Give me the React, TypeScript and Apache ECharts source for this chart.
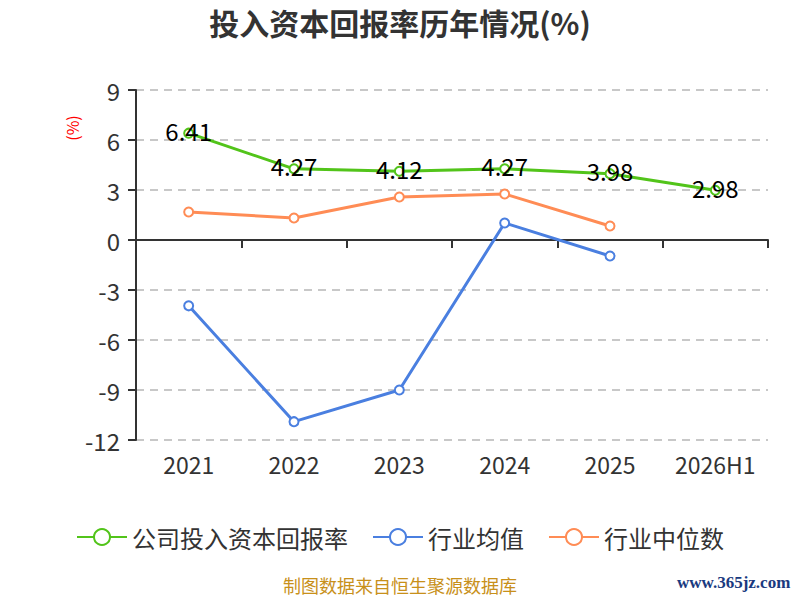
import React, { useEffect, useRef } from 'react';
import * as echarts from 'echarts';

const years = ['2021', '2022', '2023', '2024', '2025', '2026H1'];
const companyRoic = [6.41, 4.27, 4.12, 4.27, 3.98, 2.98];
const industryAvg = [-3.95, -10.9, -9.0, 1.02, -0.96, null];
const industryMedian = [1.68, 1.32, 2.58, 2.76, 0.84, null];
const seriesNames = ['公司投入资本回报率', '行业均值', '行业中位数'];

const App = () => {
  const chartRef = useRef(null);

  useEffect(() => {
    document.body.style.margin = '0';
    const chart = echarts.init(chartRef.current, null, { renderer: 'svg' });
    const font = '"Noto Sans CJK SC", "Noto Sans", sans-serif';
    const lineSeries = (name, data, color, withLabel) => ({
      name,
      type: 'line',
      data,
      symbol: 'emptyCircle',
      symbolSize: 9,
      lineStyle: { width: 3, color },
      itemStyle: { color, borderWidth: 2 },
      label: withLabel
        ? { show: true, position: 'inside', offset: [0, -3], color: '#000', fontSize: 24, fontFamily: font }
        : { show: false },
    });

    chart.setOption({
      animation: false,
      textStyle: { fontFamily: font },
      title: {
        text: '投入资本回报率历年情况(%)',
        left: 'center',
        top: 2,
        textStyle: { fontSize: 30, fontWeight: 'bold', color: '#333', fontFamily: font },
      },
      grid: { left: 136, right: 32, top: 90, bottom: 160 },
      legend: {
        bottom: 46,
        left: 'center',
        itemWidth: 50,
        itemHeight: 20,
        itemGap: 24,
        textStyle: { fontSize: 24, color: '#333' },
        data: seriesNames,
      },
      xAxis: [
        {
          type: 'category',
          data: years,
          position: 'bottom',
          axisLine: { show: false, onZero: false },
          axisTick: { show: false },
          axisLabel: { fontSize: 23, color: '#333', margin: 12, interval: 0 },
        },
        {
          type: 'category',
          data: years,
          position: 'bottom',
          axisLine: { show: true, onZero: true, lineStyle: { color: '#333', width: 2 } },
          axisTick: { show: true, length: 8, lineStyle: { color: '#333', width: 2 } },
          axisLabel: { show: false },
        },
      ],
      yAxis: {
        type: 'value',
        min: -12,
        max: 9,
        interval: 3,
        axisLine: { show: true, lineStyle: { color: '#333', width: 2 } },
        axisTick: { show: true, length: 8, lineStyle: { color: '#333', width: 2 } },
        axisLabel: { fontSize: 24, color: '#333', margin: 16 },
        splitLine: { lineStyle: { type: [8, 6], color: '#c8c8c8', width: 2 } },
      },
      graphic: [
        {
          type: 'text',
          x: 72,
          y: 128,
          rotation: Math.PI / 2,
          style: { text: '(%)', fill: '#ff0000', fontSize: 16, fontFamily: font, align: 'center', verticalAlign: 'middle' },
        },
        {
          type: 'text',
          left: 'center',
          top: 576,
          style: { text: '制图数据来自恒生聚源数据库', fill: '#c8901a', fontSize: 18, fontFamily: font },
        },
        {
          type: 'text',
          x: 677,
          y: 574,
          style: {
            text: 'www.365jz.com',
            fill: '#1a3a80',
            fontSize: 17,
            fontWeight: 'bold',
            fontFamily: '"Liberation Serif", serif',
          },
        },
      ],
      series: [
        lineSeries(seriesNames[0], companyRoic, '#52c41a', true),
        lineSeries(seriesNames[1], industryAvg, '#4a7fe0', false),
        lineSeries(seriesNames[2], industryMedian, '#ff8c55', false),
      ],
    });

    return () => chart.dispose();
  }, []);

  return <div ref={chartRef} style={{ width: '800px', height: '600px' }} />;
};

export default App;
